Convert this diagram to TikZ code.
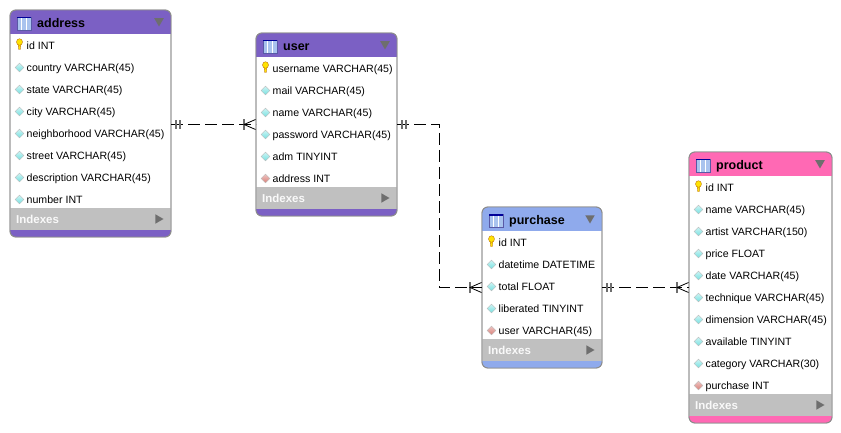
\documentclass[tikz,border=0pt]{standalone}
\usepackage{fontspec}
\setmainfont{Liberation Sans}
\usetikzlibrary{shapes,calc,decorations.markings}
\definecolor{tablepurple}{HTML}{7B60C4}
\definecolor{tableblue}{HTML}{8FAAEC}
\definecolor{tablepink}{HTML}{FF69B4}
\definecolor{bordergray}{HTML}{8C8C8C}
\definecolor{bandgray}{HTML}{C0C0C0}
\definecolor{markgray}{HTML}{6E6E6E}
\definecolor{coldiamond}{HTML}{74E0E0}
\definecolor{fkdiamond}{HTML}{D97F78}
\definecolor{gridblue}{HTML}{A9C3EE}
\tikzset{
    tablebox/.style={rectangle, draw=bordergray, line width=.9pt, rounded corners=6pt, anchor=north west, inner sep=0pt, outer sep=0pt},
    tabletitle/.style={anchor=base west, inner sep=0pt, font=\bfseries\fontsize{12.5}{14}\selectfont},
    rowtext/.style={anchor=base west, inner sep=0pt, font=\fontsize{10.6}{12}\selectfont},
    bandtext/.style={anchor=base west, inner sep=0pt, text=white!95!gray, font=\bfseries\fontsize{11.5}{13}\selectfont},
    headmark/.style={regular polygon, regular polygon sides=3, shape border rotate=180, fill=markgray, inner sep=0pt, minimum size=11pt},
    bandmark/.style={regular polygon, regular polygon sides=3, shape border rotate=-90, fill=markgray, inner sep=0pt, minimum size=11pt},
    keyicon/.pic={
        \fill[yellow!85!orange, draw=orange!70!black, line width=.3pt] (-1.5,-2) -- (1.5,-2) -- (.8,4) -- (-.8,4) -- cycle;
        \fill[yellow!85!orange, draw=orange!70!black, line width=.3pt] (0,-3.5) ellipse (3 and 3.3);
    },
    colicon/.pic={
        \draw[top color=coldiamond!35, bottom color=coldiamond, draw=gray!55, line width=.4pt] (-4.4,0) -- (0,-4.4) -- (4.4,0) -- (0,4.4) -- cycle;
    },
    fkicon/.pic={
        \draw[top color=fkdiamond!45, bottom color=fkdiamond, draw=gray!55, line width=.4pt] (-4.4,0) -- (0,-4.4) -- (4.4,0) -- (0,4.4) -- cycle;
    },
    gridicon/.pic={
        \fill[gridblue, draw=gray!70!blue, line width=.6pt] (0,0) rectangle (14,13);
        \fill[blue!60!black] (0,0) rectangle (14,1.5);
        \foreach \gx in {4.7,9.4} \draw[white, line width=.5pt] (\gx,1.5) -- (\gx,13);
    },
    % dashed link: two bars at the start, bar and crow's foot at the end
    rellink/.style={dash pattern=on 12pt off 5pt, line width=1pt, postaction={decorate}, decoration={markings,
        mark=at position 5pt with {\draw[solid, markgray, line width=1.4pt] (0pt,-4.5pt) -- (0pt,4.5pt);},
        mark=at position 9pt with {\draw[solid, markgray, line width=1.4pt] (0pt,-4.5pt) -- (0pt,4.5pt);},
        mark=at position -12pt with {\draw[solid, markgray, line width=1.6pt] (0pt,-5.5pt) -- (0pt,5.5pt);
            \draw[solid, black, line width=.8pt] (11.5pt,-5pt) -- (0pt,0pt) -- (11.5pt,5pt);}
    }}
}
% id, left, top, width, number of rows, colour, rows
\newcommand{\erdtable}[7]{
    \pgfmathsetlengthmacro{\tableheight}{(22*#5+51)*1pt}
    \node[tablebox, fill=white, minimum width=#4pt, minimum height=\tableheight] (#1) at (#2,#3) {};
    \begin{scope}
        \clip[rounded corners=6pt] (#2,#3) rectangle (#2+#4,#3+22*#5+51);
        \fill[#6] (#2,#3) rectangle (#2+#4,#3+24);
        \fill[bandgray] (#2,#3+22*#5+22) rectangle (#2+#4,#3+22*#5+44);
        \fill[#6] (#2,#3+22*#5+44) rectangle (#2+#4,#3+22*#5+51);
    \end{scope}
    \node[tablebox, minimum width=#4pt, minimum height=\tableheight] (#1-frame) at (#2,#3) {};
    \pic at (#2+7,#3+7) {gridicon};
    \node[tabletitle] (#1-title) at (#2+27,#3+17.5) {#1};
    \node[headmark] (#1-head) at (#2+#4-12,#3+11) {};
    \foreach \kind/\rowname [count=\i] in {#7} {
        \pic at (#2+9.5,#3+35.5+22*\i-22) {\kind};
        \node[rowtext] (#1-row\i) at (#2+16.5,#3+39.5+22*\i-22) {\rowname};
    }
    \node[bandtext] (#1-index) at (#2+6,#3+22*#5+37.5) {Indexes};
    \node[bandmark] (#1-more) at (#2+#4-13,#3+22*#5+33) {};
}
\begin{document}
\begin{tikzpicture}[x=1pt, y=-1pt]
    \useasboundingbox (0,0) rectangle (841,433);
    \erdtable{address}{10}{10}{161}{8}{tablepurple}{keyicon/id INT, colicon/country VARCHAR(45), colicon/state VARCHAR(45), colicon/city VARCHAR(45), colicon/neighborhood VARCHAR(45), colicon/street VARCHAR(45), colicon/description VARCHAR(45), colicon/number INT}
    \erdtable{user}{256}{33}{141}{6}{tablepurple}{keyicon/username VARCHAR(45), colicon/mail VARCHAR(45), colicon/name VARCHAR(45), colicon/password VARCHAR(45), colicon/adm TINYINT, fkicon/address INT}
    \erdtable{purchase}{482}{207}{120}{5}{tableblue}{keyicon/id INT, colicon/datetime DATETIME, colicon/total FLOAT, colicon/liberated TINYINT, fkicon/user VARCHAR(45)}
    \erdtable{product}{689}{152}{143}{10}{tablepink}{keyicon/id INT, colicon/name VARCHAR(45), colicon/artist VARCHAR(150), colicon/price FLOAT, colicon/date VARCHAR(45), colicon/technique VARCHAR(45), colicon/dimension VARCHAR(45), colicon/available TINYINT, colicon/category VARCHAR(30), fkicon/purchase INT}

    \coordinate (bend) at ($(user.east)!.5!(purchase.west)$);
    \draw[rellink] (address.east |- user.west) -- (user.west);
    \draw[rellink] (user.east) -| (bend) |- (purchase.west);
    \draw[rellink] (purchase.east) -- (product.west);
\end{tikzpicture}
\end{document}
